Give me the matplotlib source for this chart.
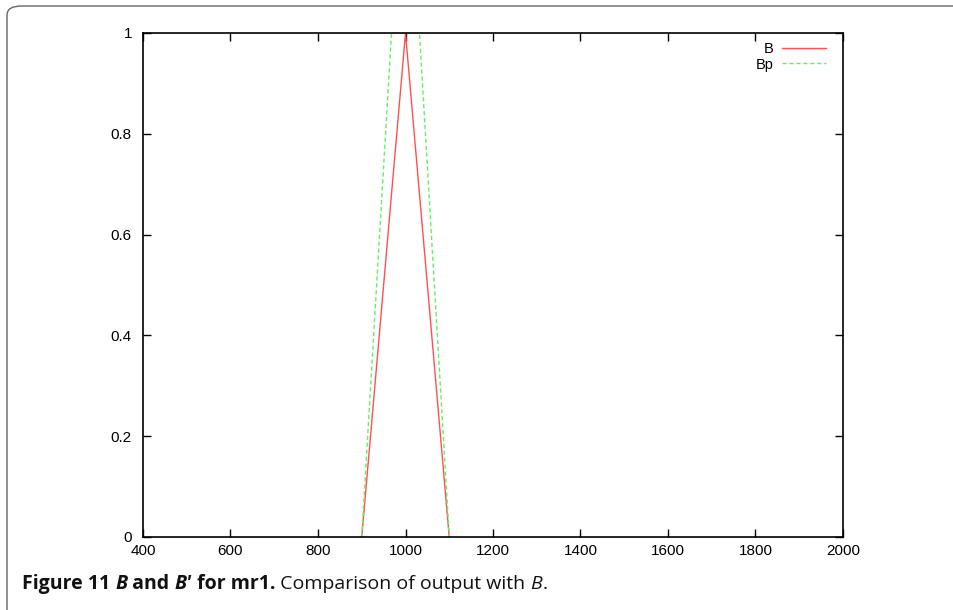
import matplotlib
matplotlib.use("Agg")
import matplotlib.pyplot as plt
from matplotlib.patches import FancyBboxPatch

# data
b_x = [900, 1000, 1100]
b_y = [0, 1, 0]
bp_x = [900, 968, 1032, 1100]
bp_y = [0, 1, 1, 0]
x_ticks = [400, 600, 800, 1000, 1200, 1400, 1600, 1800, 2000]
y_ticks = [0, 0.2, 0.4, 0.6, 0.8, 1]
y_labels = ["0", "0.2", "0.4", "0.6", "0.8", "1"]

W, H = 954, 610
plt.rcParams["font.family"] = ["Liberation Sans", "DejaVu Sans"]
fig = plt.figure(figsize=(W / 100, H / 100), dpi=100)

# outer frame of the figure panel (clipped by the image edge)
frame = FancyBboxPatch((7 / W, -0.2), 1.2, 1.2 - 6 / H,
                       boxstyle="round,pad=0,rounding_size=0.015",
                       transform=fig.transFigure, fill=False,
                       edgecolor="#666666", linewidth=1.0)
fig.patches.append(frame)

ax = fig.add_axes([143 / W, 1 - 537 / H, 700 / W, 504 / H])
ax.plot(b_x, b_y, color="#ff5050", linewidth=1.0, label="B")
ax.plot(bp_x, bp_y, color="#66ee66", linewidth=1.0, linestyle=(0, (3, 2)), label="Bp")
ax.set_xlim(400, 2000)
ax.set_ylim(0, 1)
ax.set_xticks(x_ticks)
ax.set_yticks(y_ticks)
ax.set_yticklabels(y_labels)
ax.tick_params(direction="in", length=6, width=1, top=True, right=True,
               labelsize=11)
ax.tick_params(axis="y", pad=8)
ax.tick_params(axis="x", pad=5)
for s in ax.spines.values():
    s.set_linewidth(1.2)

leg = ax.legend(loc="upper right", frameon=False, markerfirst=False,
                fontsize=10.5, handlelength=3.0, labelspacing=0.1,
                borderaxespad=0, borderpad=0, handletextpad=0.6,
                bbox_to_anchor=(0.976, 0.982))
for t in leg.get_texts():
    t.set_ha("right")

# caption built from pieces
pieces = [
    ("Figure 11 ", "bold", "normal"),
    ("B", "bold", "italic"),
    (" and ", "bold", "normal"),
    ("B\u2032", "bold", "italic"),
    (" for mr1.", "bold", "normal"),
    (" Comparison of output with ", "normal", "normal"),
    ("B", "normal", "italic"),
    (".", "normal", "normal"),
]
fig.canvas.draw()
renderer = fig.canvas.get_renderer()
x = 22
y = H - 589
for txt, w, st in pieces:
    t = fig.text(x / W, y / H, txt, fontsize=14, fontweight=w, fontstyle=st,
                 family="Open Sans", va="baseline", ha="left", color="#111111")
    bb = t.get_window_extent(renderer)
    x += bb.width

fig.savefig("out.png", dpi=100)
